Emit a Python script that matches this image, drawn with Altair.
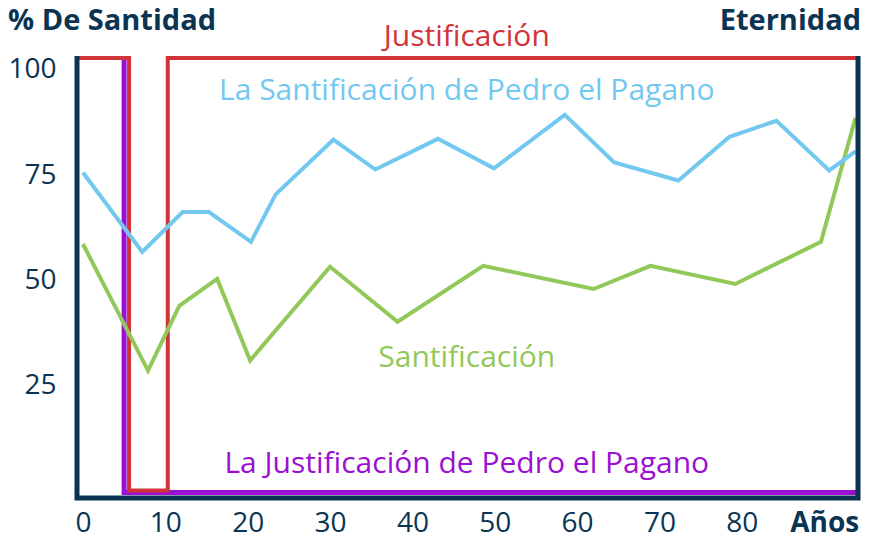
import altair as alt
import pandas as pd

# ---- data ----
blue_x = [0, 7.2, 12.1, 15.3, 20.4, 23.4, 30.4, 35.5, 43.1, 49.9, 58.5, 64.5, 72.3, 78.5, 84.2, 90.6, 93.8]
blue_y = [75.6, 56.7, 66.2, 66.2, 59.1, 70.4, 83.4, 76.3, 83.6, 76.6, 89.3, 78.0, 73.7, 84.1, 87.9, 76.1, 80.6]
green_x = [0, 7.9, 11.7, 16.3, 20.3, 30.0, 38.2, 48.6, 62.0, 68.9, 79.2, 89.6, 93.8]
green_y = [58.6, 28.5, 43.9, 50.3, 30.9, 53.2, 40.1, 53.4, 47.9, 53.4, 49.1, 59.1, 88.6]
red_x = [-0.7, 5.6, 5.6, 10.3, 10.3, 93.9]
red_y = [102.8, 102.8, 0.0, 0.0, 102.8, 102.8]
purple_x = [5.0, 5.0, 93.9]
purple_y = [102.4, -0.5, -0.5]
frame_x = [-0.72, -0.72, 94.1, 94.1]
frame_y = [103.3, -1.8, -1.8, 103.3]

label_text = ["Justificación", "La Santificación de Pedro el Pagano", "Santificación",
              "La Justificación de Pedro el Pagano"]
label_x = [46.6, 46.6, 46.6, 46.6]
label_y = [107.8, 95.0, 31.4, 6.3]
label_color = ["#d13438", "#73c8f0", "#92c85a", "#9a0fd2"]

x_ticks = [0, 10, 20, 30, 40, 50, 60, 70, 80, 90]
y_ticks = [25, 50, 75, 100]

NAVY = "#0b3452"
FONT = "Open Sans"

xs = alt.Scale(domain=[-0.72, 94.1], nice=False, zero=False)
ys = alt.Scale(domain=[-1.8, 103.3], nice=False, zero=False)

X_AXIS = alt.Axis(
    values=x_ticks, title=None, grid=False, domain=False, ticks=False,
    labelFont=FONT, labelFontSize=28, labelColor=NAVY, labelPadding=11,
    labelExpr="datum.value == 90 ? 'Años' : datum.label",
    labelFontWeight={"condition": {"test": "datum.value == 90", "value": "bold"}, "value": "normal"},
)
Y_AXIS = alt.Axis(
    values=y_ticks, title=None, grid=False, domain=False, ticks=False,
    labelFont=FONT, labelFontSize=28, labelColor=NAVY, labelPadding=21,
)


def X(field="x"):
    return alt.X(f"{field}:Q", scale=xs, axis=X_AXIS)


def Y(field="y"):
    return alt.Y(f"{field}:Q", scale=ys, axis=Y_AXIS)


def line_layer(xv, yv, color, width):
    df = pd.DataFrame({"x": xv, "y": yv, "o": list(range(len(xv)))})
    return alt.Chart(df).mark_line(color=color, strokeWidth=width, strokeJoin="miter", clip=False).encode(
        x=X(), y=Y(), order="o:Q",
    )


lab_df = pd.DataFrame({"t": label_text, "x": label_x, "y": label_y, "c": label_color})
labels = alt.Chart(lab_df).mark_text(font=FONT, fontSize=30, align="center", baseline="middle").encode(
    x=X(), y=Y(),
    text="t:N",
    color=alt.Color("c:N", scale=None),
)

one = pd.DataFrame({"x": [0], "y": [0]})
title_l = alt.Chart(one).mark_text(
    text="% De Santidad", font=FONT, fontSize=29, fontWeight="bold", color=NAVY,
    align="left", baseline="middle").encode(x=alt.value(-69), y=alt.value(-35))
title_r = alt.Chart(one).mark_text(
    text="Eternidad", font=FONT, fontSize=29, fontWeight="bold", color=NAVY,
    align="right", baseline="middle").encode(x=alt.value(784), y=alt.value(-35))

chart = alt.layer(
    line_layer(purple_x, purple_y, "#9a0fd2", 5),
    line_layer(red_x, red_y, "#d13438", 4),
    line_layer(green_x, green_y, "#92c85a", 4),
    line_layer(blue_x, blue_y, "#73c8f0", 4),
    line_layer(frame_x, frame_y, NAVY, 5),
    labels,
    title_l,
    title_r,
).properties(
    width=781, height=442,
    autosize=alt.AutoSizeParams(type="none"),
    padding={"left": 69, "top": 48, "right": 3, "bottom": 41},
).configure_view(stroke=None)

chart.save("out.html", embed_options={"renderer": "svg", "actions": False})
